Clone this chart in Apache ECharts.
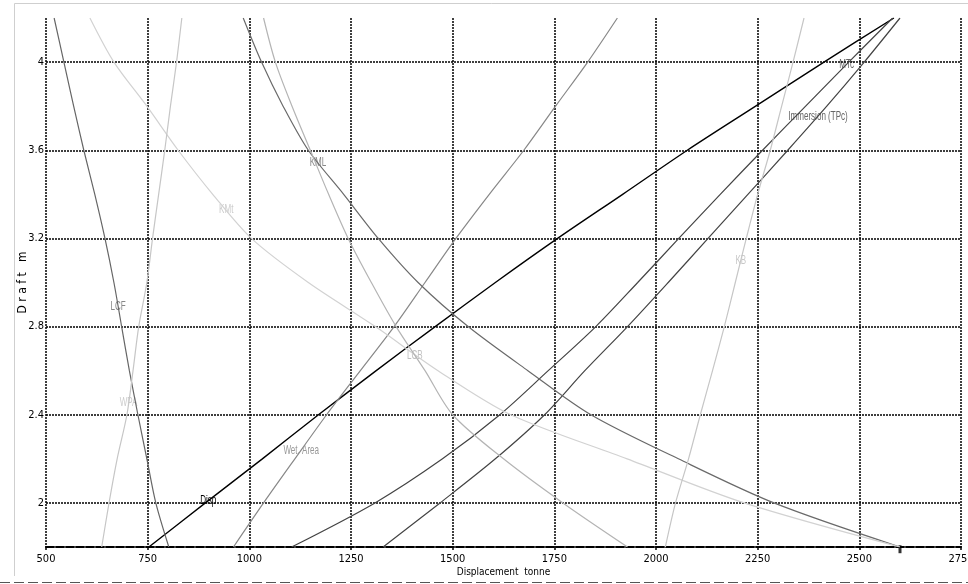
<!DOCTYPE html>
<html>
<head>
<meta charset="utf-8">
<title>Hydrostatic curves</title>
<script src="https://cdn.jsdelivr.net/npm/echarts@6/dist/echarts.min.js"></script>
<style>
html, body { margin: 0; padding: 0; background: #fff; }
#chart { width: 968px; height: 584px; }
</style>
</head>
<body>
<div id="chart"></div>
<script>
// drafts (m) at which every curve was read
const drafts = [1.8, 2.0, 2.2, 2.4, 2.6, 2.8, 3.0, 3.2, 3.4, 3.6, 3.8, 4.0, 4.2];

// curve positions on the displacement scale, one per draft
const disp    = [753, 892, 1032, 1170, 1312, 1457, 1605, 1758, 1918, 2077, 2245, 2413, 2585];
const wetArea = [961, 1035, 1112, 1190, 1273, 1356, 1432, 1508, 1590, 1675, 1753, 1832, 1905];
const mtc     = [1104, 1309, 1475, 1616, 1735, 1852, 1955, 2056, 2158, 2262, 2368, 2474, 2582];
const tpc     = [1329, 1469, 1605, 1726, 1825, 1930, 2030, 2128, 2226, 2324, 2420, 2512, 2600];
const kml     = [2600, 2290, 2055, 1840, 1685, 1538, 1415, 1317, 1232, 1145, 1083, 1030, 985];
const kmt     = [2600, 2217, 1929, 1643, 1464, 1310, 1145, 1005, 910, 825, 748, 667, 608];
const lcb     = [1930, 1771, 1625, 1500, 1432, 1361, 1300, 1243, 1195, 1150, 1105, 1064, 1035];
const lcf     = [802, 770, 748, 726, 705, 686, 667, 645, 620, 593, 568, 544, 520];
const wpa     = [637, 655, 675, 699, 714, 728, 748, 762, 777, 792, 806, 821, 834];
const kb      = [2023, 2048, 2080, 2109, 2139, 2168, 2195, 2222, 2250, 2281, 2309, 2337, 2364];

// curve names and the draft where each name sits on its curve
const curveNames  = ['Disp', 'Wet. Area', 'MTc', 'Immersion (TPc)', 'KML', 'KMt', 'LCB', 'LCF', 'WPA', 'KB'];
const labelDrafts = [2.01, 2.24, 3.99, 3.755, 3.545, 3.33, 2.67, 2.89, 2.455, 3.1];

// little marker at the foot of the KM curves
const endMark = [[2600, 1.79]];

const xTicks = [500, 750, 1000, 1250, 1500, 1750, 2000, 2250, 2500, 2750];
const yTicks = [2, 2.4, 2.8, 3.2, 3.6, 4];

const FONT = '"DejaVu Sans Condensed", "Liberation Sans", sans-serif';

const curveValues = [disp, wetArea, mtc, tpc, kml, kmt, lcb, lcf, wpa, kb];
const lineColors  = ['#000', '#888', '#444', '#444', '#6a6a6a', '#d2d2d2', '#b4b4b4', '#666', '#c6c6c6', '#c6c6c6'];
const textColors  = ['#000', '#999', '#666', '#666', '#888', '#ccc', '#c0c0c0', '#888', '#ccc', '#c8c8c8'];
const lineWidths  = [1.4, 1.2, 1.2, 1.2, 1.2, 1.2, 1.2, 1.2, 1.2, 1.2];

// x on a curve at draft t (straight between read points)
function xAt(values, t) {
    for (let k = 0; k < drafts.length - 1; k++) {
        if (t >= drafts[k] && t <= drafts[k + 1]) {
            const f = (t - drafts[k]) / (drafts[k + 1] - drafts[k]);
            return values[k] + f * (values[k + 1] - values[k]);
        }
    }
    return values[values.length - 1];
}

const series = curveValues.map((vals, i) => ({
    type: 'line',
    name: curveNames[i],
    data: drafts.map((d, k) => [vals[k], d]),
    showSymbol: false,
    smooth: 0.3,
    silent: true,
    lineStyle: { color: lineColors[i], width: lineWidths[i] }
}));

series.push({
    type: 'scatter',
    data: endMark,
    symbol: 'rect',
    symbolSize: [3, 8],
    clip: false,
    silent: true,
    itemStyle: { color: '#000' }
});

// page frame round the plot
const frame = [
    { type: 'polyline', silent: true, shape: { points: [[14.5, 576], [14.5, 3.5], [968, 3.5]] },
      style: { stroke: '#cfcfcf', lineWidth: 1, fill: null } },
    { type: 'line', silent: true, shape: { x1: 0, y1: 582.5, x2: 968, y2: 582.5 },
      style: { stroke: '#555', lineWidth: 1, lineDash: [10, 4] } }
];

const myChart = echarts.init(document.getElementById('chart'));
myChart.setOption({
    animation: false,
    backgroundColor: '#fff',
    grid: { left: 46, right: 7, top: 18, bottom: 37, outerBoundsMode: 'none' },
    xAxis: {
        type: 'value',
        min: 500,
        max: 2750,
        interval: 250,
        name: 'Displacement  tonne',
        nameLocation: 'middle',
        nameGap: 20,
        nameMoveOverlap: false,
        nameTextStyle: { fontFamily: FONT, fontSize: 10, color: '#000' },
        axisLine: { lineStyle: { color: '#000', width: 2, type: [8, 2] } },
        axisTick: { show: true, length: 3, lineStyle: { color: '#000', width: 1.5 } },
        axisLabel: { fontFamily: FONT, fontSize: 11, color: '#000', margin: 7, formatter: v => String(v) },
        splitLine: { lineStyle: { color: '#000', width: 1.5, type: [2, 1] } }
    },
    yAxis: {
        type: 'value',
        min: 1.8,
        max: 4.2,
        name: 'D r a f t   m',
        nameLocation: 'middle',
        nameGap: 17,
        nameMoveOverlap: false,
        nameTextStyle: { fontFamily: FONT, fontSize: 12, color: '#000' },
        axisLine: { show: false },
        axisTick: { show: false, customValues: yTicks },
        axisLabel: { customValues: yTicks, fontFamily: FONT, fontSize: 11, color: '#000', margin: 2 },
        splitLine: { lineStyle: { color: '#000', width: 1.5, type: [2, 1] } }
    },
    graphic: frame,
    series: series
});

// curve names, squeezed like the original plotter text, placed through the axes
const nameTexts = curveNames.map((n, i) => {
    const p = myChart.convertToPixel({ gridIndex: 0 }, [xAt(curveValues[i], labelDrafts[i]), labelDrafts[i]]);
    return {
        type: 'text', silent: true, x: p[0], y: p[1], scaleX: 0.62,
        style: { text: n, font: '13px "Liberation Sans"', fill: textColors[i], align: 'center', verticalAlign: 'middle' }
    };
});
myChart.setOption({ graphic: frame.concat(nameTexts) });
</script>
</body>
</html>
